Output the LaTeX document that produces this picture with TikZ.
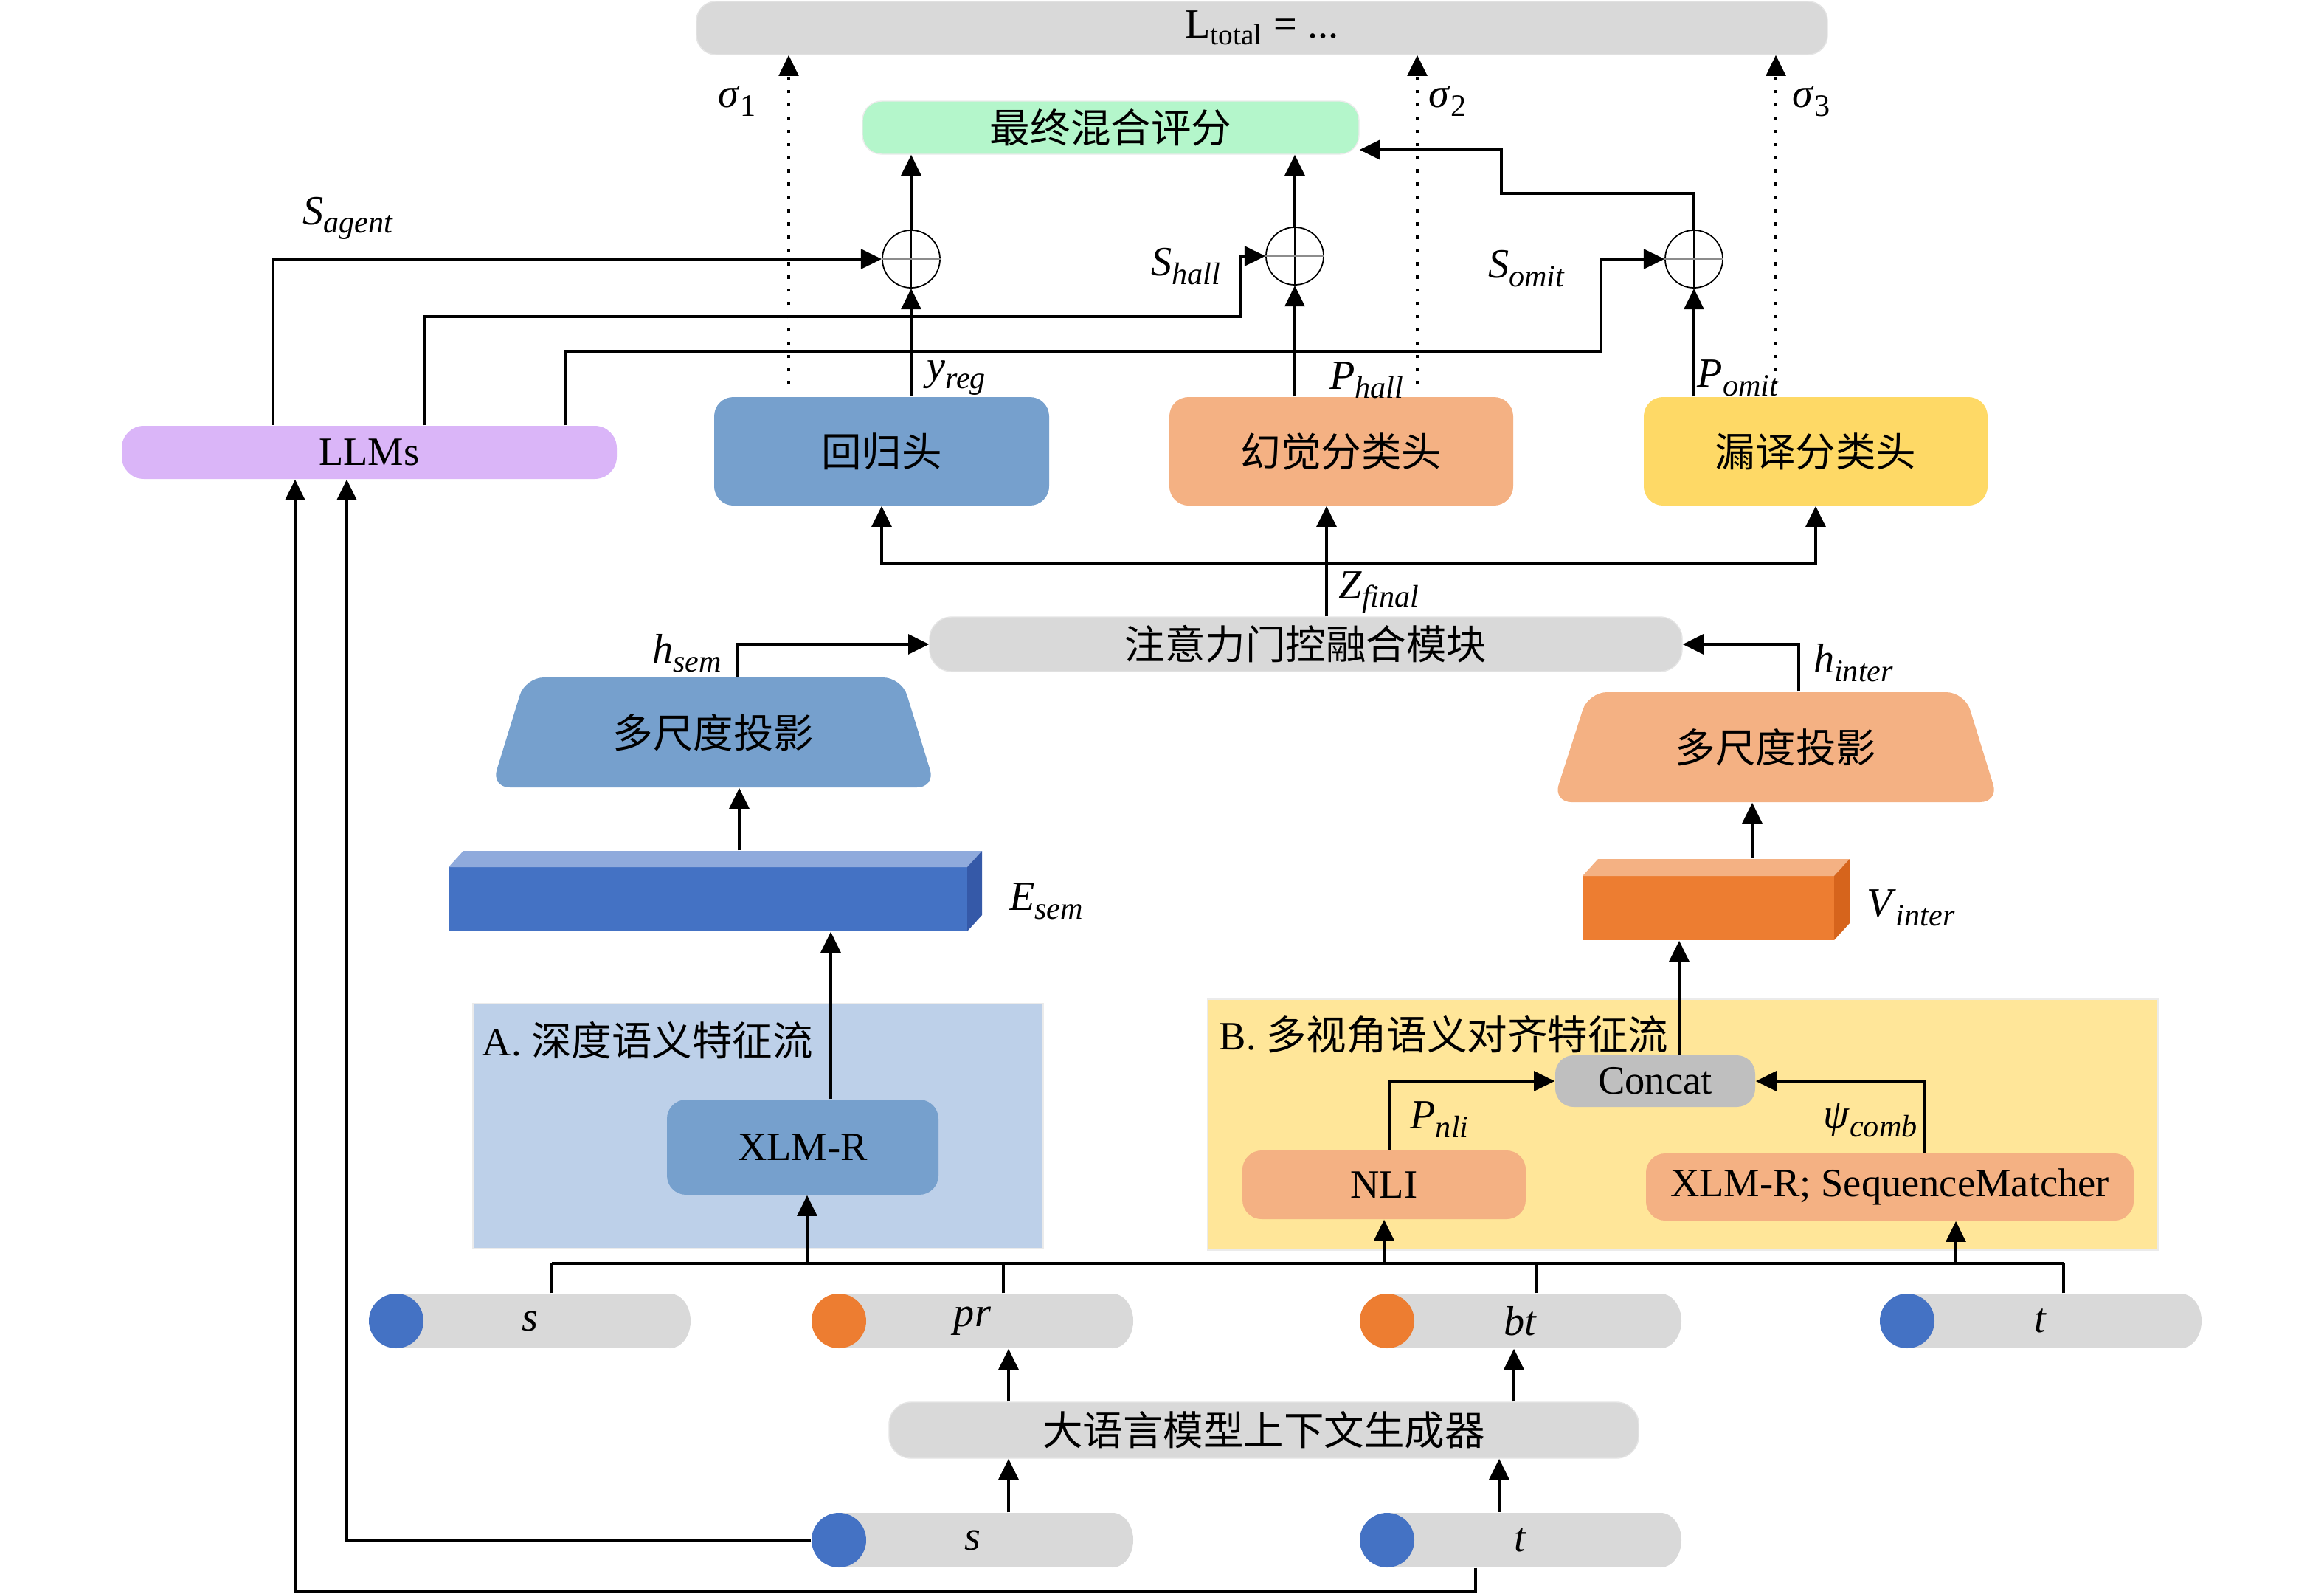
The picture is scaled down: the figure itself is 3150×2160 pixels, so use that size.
\documentclass[tikz,border=0pt]{standalone}
\usepackage{fontspec}
\setmainfont{Liberation Serif}
\newfontfamily\cjk{Noto Sans CJK SC}
\usetikzlibrary{arrows.meta,fit,calc}

\definecolor{lossgray}{HTML}{D9D9D9}
\definecolor{finalgreen}{HTML}{B4F6CB}
\definecolor{llmpurple}{HTML}{DAB5F8}
\definecolor{headblue}{HTML}{76A0CD}
\definecolor{salmon}{HTML}{F4B183}
\definecolor{headyellow}{HTML}{FED966}
\definecolor{regA}{HTML}{BDD0E9}
\definecolor{regB}{HTML}{FFE699}
\definecolor{concatgray}{HTML}{BFBFBF}
\definecolor{inblue}{HTML}{4472C4}
\definecolor{inorange}{HTML}{ED7D31}
\definecolor{esemtop}{HTML}{8FAADC}
\definecolor{esemside}{HTML}{3559A8}
\definecolor{vside}{HTML}{D6641C}

\newcommand\lab[2]{\fontsize{16}{18}\selectfont\textit{#1}\raisebox{-0.45ex}{\fontsize{12}{12}\selectfont\textit{#2}}}
\newcommand\labu[2]{\fontsize{16}{18}\selectfont\textit{#1}\raisebox{-0.45ex}{\fontsize{12}{12}\selectfont #2}}

% box: [style]{name}{corner1}{corner2}{text}
\newcommand\boxn[5][]{%
  \node[fb,#1,fit={(#3)(#4)}] (#2) {};
  \node (#2-t) at (#2.center) {#5};
}

\newcommand\cyl[6]{%
  \fill[cylbody] (#2+37,#4-37) rectangle (#3-28,#4+37);
  \fill[cylbody] (#3-28,#4) ellipse [x radius=28, y radius=37];
  \fill[#5] (#2+37,#4) ellipse [x radius=37, y radius=37];
  \node[fit={(#2,#4-37)(#3,#4+37)}, inner sep=0pt] (#1) {};
  \node (#1-t) at (#1.center) {\fontsize{16}{18}\selectfont\textit{#6}};
}

\begin{document}
\begin{tikzpicture}[x=0.01cm,y=-0.01cm,
  font=\fontsize{15.5}{18}\selectfont,
  ln/.style={line width=1.3pt},
  arr/.style={line width=1.3pt,-{Triangle[length=8pt,width=7.5pt]}},
  dotarr/.style={line width=1.2pt,dash pattern=on 1.3pt off 3.8pt,-{Triangle[length=8pt,width=7.5pt]}},
  fb/.style={inner sep=0pt, rounded corners=0.26cm},
  cylbody/.style={fill=lossgray},
  opl/.style={circle, draw, line width=0.5pt, minimum size=0.78cm, inner sep=0pt}]

\useasboundingbox (0,0) rectangle (3150,2160);

% ---------- top ----------
\boxn[fill=lossgray, draw=black!10]{loss}{944,2}{2477,74}{\fontsize{16}{18}\selectfont L\textsubscript{total} = ...}
\boxn[fill=finalgreen, draw=black!8]{final}{1169,137}{1842,209}{\cjk 最终混合评分}

\node[opl] (p1) at (1235,351) {};
\node[opl] (p2) at (1755,347) {};
\node[opl] (p3) at (2296,351) {};
\foreach \p in {p1,p2,p3}{
  \draw[line width=0.4pt] (\p.north) -- (\p.south);
  \draw[line width=0.6pt, black!45] (\p.west) -- (\p.east);
}

% ---------- heads ----------
\boxn[fill=llmpurple, rounded corners=0.3cm]{llm}{165,577}{836,649}{LLMs}
\boxn[fill=headblue]{reg}{968,538}{1422,685}{\cjk 回归头}
\boxn[fill=salmon]{hall}{1585,538}{2051,685}{\cjk 幻觉分类头}
\boxn[fill=headyellow]{omit}{2228,538}{2694,685}{\cjk 漏译分类头}

% dotted to loss
\coordinate (d1) at (1069,521);
\coordinate (d2) at (1921,521);
\coordinate (d3) at (2407,521);
\draw[dotarr] (d1) -- (loss.south -| d1);
\draw[dotarr] (d2) -- (loss.south -| d2);
\draw[dotarr] (d3) -- (loss.south -| d3);
\node (sig1) at (999,137) {\labu{σ}{1}};
\node (sig2) at (1962,137) {\labu{σ}{2}};
\node (sig3) at (2455,137) {\labu{σ}{3}};

% heads to oplus and to final
\draw[arr] (reg.north -| p1) -- (p1.south);
\draw[arr] (hall.north -| p2) -- (p2.south);
\draw[arr] (omit.north -| p3) -- (p3.south);
\draw[arr] (p1.north) -- (final.south -| p1);
\draw[arr] (p2.north) -- (final.south -| p2);
\draw[arr] (p3.north) |- (2035,262) |- (final.east |- 0,203);

\node (yreg) at (1296,512) {\lab{y}{reg}};
\node (phall) at (1852,515) {\lab{P}{hall}};
\node (pomit) at (2356,512) {\lab{P}{omit}};

% LLM branches
\draw[arr] (llm.north -| 370,0) |- (p1.west);
\draw[arr] (llm.north -| 576,0) |- (1681,429) |- (p2.west);
\draw[arr] (llm.north -| 767,0) |- (2170,476) |- (p3.west);
\node (sag) at (472,296) {\lab{S}{agent}};
\node (shall) at (1607,361) {\lab{S}{hall}};
\node (somit) at (2069,364) {\lab{S}{omit}};

% ---------- fusion ----------
\boxn[fill=lossgray, draw=black!10, rounded corners=0.3cm]{attn}{1260,836}{2280,910}{\cjk 注意力门控融合模块}
\coordinate (zj) at (1798,763);
\draw[ln] (attn.north -| zj) -- (zj);
\draw[arr] (zj) -- (hall.south -| zj);
\draw[arr] (zj) -| (reg.south);
\draw[arr] (zj) -| (omit.south);
\node (zfin) at (1869,803) {\lab{Z}{final}};

% left trapezoid
\fill[headblue, rounded corners=0.25cm] (712,918) -- (1222,918) -- (1268,1067) -- (666,1067) -- cycle;
\node[fit={(666,918)(1268,1067)}, inner sep=0pt] (trapL) {};
\node (trapL-t) at (trapL.center) {\cjk 多尺度投影};
% right trapezoid
\fill[salmon, rounded corners=0.25cm] (2153,938) -- (2663,938) -- (2709,1087) -- (2105,1087) -- cycle;
\node[fit={(2105,938)(2709,1087)}, inner sep=0pt] (trapR) {};
\node (trapR-t) at (trapR.center) {\cjk 多尺度投影};

\draw[arr] (trapL.north -| 999,0) |- (attn.west);
\draw[arr] (trapR.north -| 2438,0) |- (attn.east);
\node (hsem) at (931,885) {\lab{h}{sem}};
\node (hinter) at (2512,898) {\lab{h}{inter}};

% E_sem bar
\fill[inblue] (608,1175) rectangle (1311,1262);
\fill[esemtop] (608,1175) -- (628,1153) -- (1331,1153) -- (1311,1175) -- cycle;
\fill[esemside] (1311,1175) -- (1331,1153) -- (1331,1240) -- (1311,1262) -- cycle;
\node[fit={(608,1153)(1331,1262)}, inner sep=0pt] (esem) {};
\node (esemlab) at (1418,1221) {\lab{E}{sem}};
\draw[arr] (esem.north -| 1002,0) -- (trapL.south -| 1002,0);

% V_inter bar
\fill[inorange] (2145,1187) rectangle (2486,1274);
\fill[salmon] (2145,1187) -- (2166,1164) -- (2507,1164) -- (2486,1187) -- cycle;
\fill[vside] (2486,1187) -- (2507,1164) -- (2507,1251) -- (2486,1274) -- cycle;
\node[fit={(2145,1164)(2507,1274)}, inner sep=0pt] (vint) {};
\node (vlab) at (2590,1230) {\lab{V}{inter}};
\draw[arr] (vint.north -| 2375,0) -- (trapR.south -| 2375,0);

% ---------- region A ----------
\node[fill=regA, draw=black!8, inner sep=0pt, fit={(641,1360)(1414,1692)}] (regionA) {};
\node[anchor=west, inner sep=0pt] (titleA) at (653,1410) {A. {\cjk 深度语义特征流}};
\boxn[fill=headblue]{xlmr}{904,1490}{1272,1619}{XLM-R}
\draw[arr] (xlmr.north -| 1126,0) -- (esem.south -| 1126,0);

% ---------- region B ----------
\node[fill=regB, draw=black!8, inner sep=0pt, fit={(1637,1354)(2925,1694)}] (regionB) {};
\node[anchor=west, inner sep=0pt] (titleB) at (1652,1402) {B. {\cjk 多视角语义对齐特征流}};
\boxn[fill=concatgray, rounded corners=0.25cm]{concat}{2108,1430}{2379,1500}{Concat}
\boxn[fill=salmon]{nli}{1684,1559}{2068,1652}{NLI}
\boxn[fill=salmon]{sm}{2231,1563}{2892,1654}{XLM-R; SequenceMatcher}
\draw[arr] (concat.north -| 2276,0) -- (vint.south -| 2276,0);
\draw[arr] (nli.north -| 1884,0) |- (concat.west);
\draw[arr] (sm.north -| 2609,0) |- (concat.east);
\node (pnli) at (1951,1517) {\lab{P}{nli}};
\node (psi) at (2535,1518) {\lab{ψ}{comb}};

% ---------- inputs ----------
\cyl{s1}{500}{936}{1790}{inblue}{s}
\cyl{pr}{1100}{1536}{1790}{inorange}{pr}
\cyl{bt}{1843}{2279}{1790}{inorange}{bt}
\cyl{t1}{2548}{2984}{1790}{inblue}{t}

\coordinate (busL) at (748,1712);
\coordinate (busR) at (2797,1712);
\draw[ln] (busL) -- (busR);
\draw[ln] (s1.north -| busL) -- (busL);
\draw[ln] (pr.north -| 1360,0) -- (1360,1712);
\draw[ln] (bt.north -| 2083,0) -- (2083,1712);
\draw[ln] (t1.north -| busR) -- (busR);
\draw[arr] (1094,1712) -- (xlmr.south -| 1094,0);
\draw[arr] (nli.south |- busL) -- (nli.south);
\draw[arr] (2651,1712) -- (sm.south -| 2651,0);

\boxn[fill=lossgray, draw=black!10, rounded corners=0.3cm]{gen}{1205,1900}{2221,1976}{\cjk 大语言模型上下文生成器}
\draw[arr] (gen.north -| 1367,0) -- (pr.south -| 1367,0);
\draw[arr] (gen.north -| 2052,0) -- (bt.south -| 2052,0);

\cyl{s2}{1100}{1536}{2087}{inblue}{s}
\cyl{t2}{1843}{2279}{2087}{inblue}{t}
\draw[arr] (s2.north -| 1367,0) -- (gen.south -| 1367,0);
\draw[arr] (t2.north -| 2032,0) -- (gen.south -| 2032,0);

\draw[arr] (s2.west) -| (llm.south -| 470,0);
\draw[arr] (t2.south -| 2000,0) |- (400,2157) -- (llm.south -| 400,0);

\end{tikzpicture}
\end{document}
